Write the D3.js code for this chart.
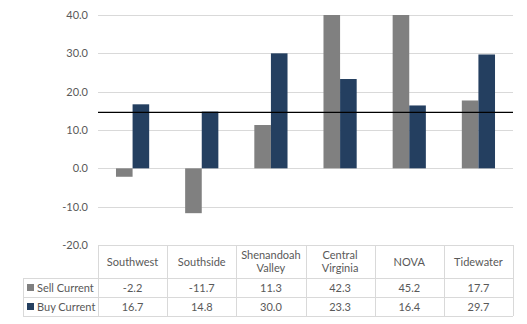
<!DOCTYPE html>
<html>
<head>
<meta charset="utf-8">
<script src="https://cdn.jsdelivr.net/npm/d3@7/dist/d3.min.js"></script>
<style>
  body { margin: 0; background: #fff; }
  text { font-family: Lato, "Open Sans", sans-serif; font-size: 11px; fill: #595959; }
</style>
</head>
<body>
<div id="chart"></div>
<script>
const regions = ["Southwest", "Southside", "Shenandoah Valley", "Central Virginia", "NOVA", "Tidewater"];
const regionLines = [["Southwest"], ["Southside"], ["Shenandoah", "Valley"], ["Central", "Virginia"], ["NOVA"], ["Tidewater"]];
const sellCurrent = [-2.2, -11.7, 11.3, 42.3, 45.2, 17.7];
const buyCurrent = [16.7, 14.8, 30.0, 23.3, 16.4, 29.7];
const seriesNames = ["Sell Current", "Buy Current"];
const seriesColors = ["#808080", "#243f60"];
const yTicks = [-20, -10, 0, 10, 20, 30, 40];
const refLine = 14.6;

const width = 527, height = 324;
const plotL = 98, plotR = 513, plotT = 15, plotB = 245;
const rowLines = [245, 278, 297, 316];
const legendLeft = 23;

// one decimal, plain hyphen for negatives
const fmt = v => d3.format(".1f")(v).replace("\u2212", "-");

const svg = d3.select("#chart").append("svg")
  .attr("width", width).attr("height", height);

const x = d3.scaleBand().domain(regions).range([plotL, plotR]);
const y = d3.scaleLinear().domain([-20, 40]).range([plotB, plotT]);
const barW = x.bandwidth() * 0.24;

svg.append("clipPath").attr("id", "plot")
  .append("rect").attr("x", plotL).attr("y", plotT).attr("width", plotR - plotL).attr("height", plotB - plotT);

// gridlines
svg.append("g").selectAll("line")
  .data(yTicks)
  .enter().append("line")
  .attr("x1", plotL).attr("x2", plotR)
  .attr("y1", d => Math.round(y(d)) + 0.5).attr("y2", d => Math.round(y(d)) + 0.5)
  .attr("stroke", "#d9d9d9").attr("stroke-width", 1);

// y labels
svg.append("g").selectAll("text")
  .data(yTicks)
  .enter().append("text")
  .attr("x", 88).attr("y", d => y(d) + 4)
  .attr("text-anchor", "end")
  .text(fmt);

// bars
const series = [sellCurrent, buyCurrent];
const bars = svg.append("g").attr("clip-path", "url(#plot)");
series.forEach((vals, s) => {
  bars.selectAll(".s" + s)
    .data(regions)
    .enter().append("rect")
    .attr("class", "s" + s)
    .attr("x", (d, i) => x(d) + x.bandwidth() / 2 - barW + s * barW)
    .attr("width", barW)
    .attr("y", (d, i) => y(Math.max(0, vals[i])))
    .attr("height", (d, i) => Math.abs(y(vals[i]) - y(0)))
    .attr("fill", seriesColors[s]);
});

// reference line
svg.append("line")
  .attr("x1", plotL).attr("x2", plotR)
  .attr("y1", y(refLine)).attr("y2", y(refLine))
  .attr("stroke", "#000").attr("stroke-width", 1.3);

// data table
const table = svg.append("g").attr("stroke", "#d9d9d9").attr("stroke-width", 1);
table.append("line").attr("x1", plotL).attr("x2", plotR).attr("y1", rowLines[0] + 0.5).attr("y2", rowLines[0] + 0.5);
rowLines.slice(1).forEach(r => {
  table.append("line").attr("x1", legendLeft).attr("x2", plotR).attr("y1", r + 0.5).attr("y2", r + 0.5);
});
regions.concat([null]).forEach((d, i) => {
  const xx = i < regions.length ? x(d) : plotR;
  table.append("line").attr("x1", Math.round(xx) + 0.5).attr("x2", Math.round(xx) + 0.5)
    .attr("y1", rowLines[0]).attr("y2", rowLines[3]);
});
table.append("line").attr("x1", legendLeft + 0.5).attr("x2", legendLeft + 0.5)
  .attr("y1", rowLines[1]).attr("y2", rowLines[3]);

// header labels
regionLines.forEach((lines, i) => {
  const cx = x(regions[i]) + x.bandwidth() / 2;
  const mid = (rowLines[0] + rowLines[1]) / 2;
  lines.forEach((ln, j) => {
    svg.append("text")
      .attr("x", cx)
      .attr("y", mid + 4 + (j - (lines.length - 1) / 2) * 13)
      .attr("text-anchor", "middle")
      .text(ln);
  });
});

// value rows
series.forEach((vals, s) => {
  const mid = (rowLines[s + 1] + rowLines[s + 2]) / 2;
  svg.append("rect")
    .attr("x", legendLeft + 4).attr("y", mid - 3.5)
    .attr("width", 7).attr("height", 7)
    .attr("fill", seriesColors[s]);
  svg.append("text")
    .attr("x", legendLeft + 14).attr("y", mid + 4)
    .text(seriesNames[s]);
  svg.append("g").selectAll("text")
    .data(regions)
    .enter().append("text")
    .attr("x", d => x(d) + x.bandwidth() / 2)
    .attr("y", mid + 4)
    .attr("text-anchor", "middle")
    .text((d, i) => fmt(vals[i]));
});
</script>
</body>
</html>
